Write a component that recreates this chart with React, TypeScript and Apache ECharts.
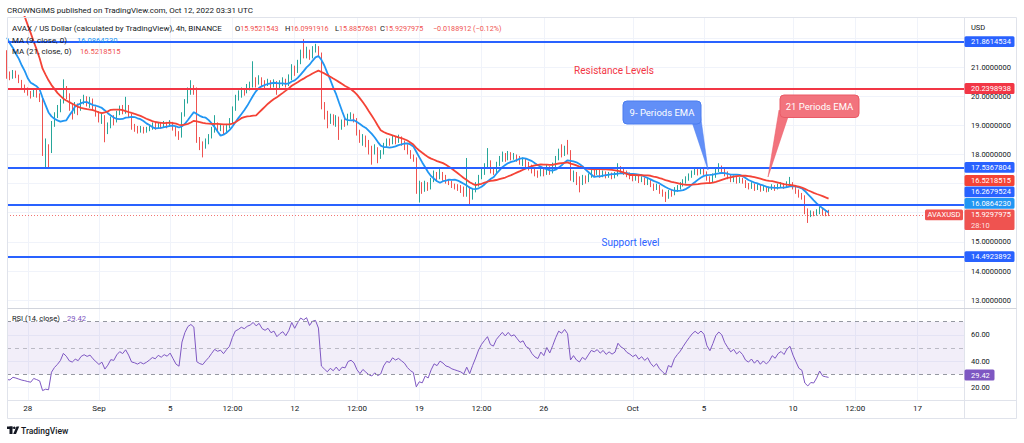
import React, { useEffect, useRef } from "react";
import * as echarts from "echarts";

// ---------------- data ----------------
// 4h closes before the first visible candle (Aug 23 12:00 .. Aug 26 16:00), only used to warm up MA / RSI
const priorCloses = [25.6, 25.3, 25.8, 25.5, 26.0, 25.7, 26.1, 25.8, 26.2, 25.9, 26.1, 25.7, 22.5, 22.2, 22.5, 22.1, 22.4, 22.0, 22.3, 21.4];

// visible 4h candles, Aug 26 20:00 .. Oct 12 00:00 (UTC)
const closes = [
  20.72, 20.66, 20.84, 20.70, 20.52, 20.35, 20.25, 20.12, 20.02, 20.20,
  20.05, 19.88, 18.15, 18.22, 18.10, 19.05, 19.35, 19.55, 19.80, 20.30,
  20.05, 19.62, 19.50, 19.68, 19.55, 19.80, 19.90, 19.78, 19.85, 19.60,
  19.40, 19.20, 19.30, 18.78, 18.95, 19.20, 19.15, 19.40, 19.55, 19.45,
  19.62, 19.35, 18.95, 18.90, 18.82, 18.88, 18.80, 18.85, 18.92, 19.00,
  18.95, 19.05, 18.98, 19.05, 19.00, 19.08, 18.90, 18.70, 18.62, 19.35,
  19.80, 20.15, 20.28, 20.20, 18.50, 18.35, 18.28, 18.45, 18.60, 18.80,
  19.00, 18.90, 18.95, 18.78, 18.95, 19.10, 19.55, 19.95, 20.05, 20.20,
  20.15, 20.30, 20.38, 20.55, 20.45, 20.60, 20.45, 20.40, 20.50, 20.38,
  20.45, 20.30, 20.42, 20.50, 20.40, 20.60, 21.00, 20.85, 21.15, 21.45,
  21.40, 21.55, 21.35, 21.60, 21.65, 21.45, 19.65, 19.40, 19.15, 19.30,
  19.10, 19.25, 18.95, 19.10, 19.05, 19.30, 19.35, 19.20, 18.75, 18.45,
  18.60, 18.40, 18.20, 18.10, 18.20, 18.00, 18.05, 18.30, 18.45, 18.40,
  18.55, 18.45, 18.50, 18.40, 18.30, 18.10, 17.95, 17.85, 16.75, 16.90,
  16.80, 17.00, 16.85, 17.10, 17.30, 17.20, 17.35, 17.25, 17.10, 17.05,
  16.95, 16.90, 16.85, 16.80, 16.70, 16.85, 16.55, 16.75, 16.95, 17.20,
  17.40, 17.55, 17.70, 17.45, 17.40, 17.65, 17.80, 17.95, 17.85, 18.00,
  17.90, 17.95, 17.85, 17.75, 17.80, 17.65, 17.60, 17.45, 17.35, 17.30,
  17.45, 17.35, 17.55, 17.40, 17.60, 17.85, 18.10, 18.05, 18.20, 18.10,
  17.20, 17.35, 17.15, 17.05, 17.20, 17.10, 17.25, 17.40, 17.35, 17.42,
  17.30, 17.38, 17.25, 17.32, 17.25, 17.30, 17.55, 17.45, 17.40, 17.30,
  17.25, 17.18, 17.22, 17.10, 17.15, 17.05, 17.10, 16.95, 16.85, 16.90,
  16.75, 16.65, 16.55, 16.70, 16.65, 16.80, 16.88, 16.95, 17.05, 17.15,
  17.25, 17.35, 17.42, 17.38, 17.45, 17.40, 17.20, 17.10, 17.25, 17.45,
  17.55, 17.50, 17.35, 17.25, 17.15, 17.20, 17.10, 17.15, 17.08, 16.95,
  16.90, 16.95, 16.85, 16.90, 16.80, 16.85, 16.78, 16.82, 16.90, 16.85,
  16.92, 16.95, 16.90, 16.98, 17.02, 16.88, 16.75, 16.60, 16.55, 16.10,
  15.95, 16.00, 15.98, 16.05, 16.15, 15.98, 15.9521543, 15.9297975,
];
const highs = [
  21.58, 20.85, 20.90, 20.88, 20.74, 20.56, 20.40, 20.30, 20.18, 20.28,
  20.24, 20.10, 19.95, 18.55, 18.35, 19.15, 19.45, 19.70, 19.90, 20.58,
  20.35, 20.10, 19.75, 19.80, 19.75, 19.90, 20.05, 20.00, 19.98, 19.92,
  19.65, 19.48, 19.42, 19.35, 19.10, 19.30, 19.35, 19.50, 19.68, 19.70,
  19.98, 19.70, 19.40, 19.05, 18.98, 18.98, 18.95, 18.95, 19.00, 19.10,
  19.08, 19.12, 19.10, 19.15, 19.12, 19.18, 19.12, 18.95, 18.80, 19.45,
  19.90, 20.30, 20.55, 20.38, 20.30, 18.60, 18.45, 18.55, 18.70, 18.95,
  19.35, 19.10, 19.05, 19.00, 19.05, 19.25, 19.65, 20.05, 20.20, 20.30,
  20.28, 20.42, 20.50, 21.20, 20.65, 20.72, 20.65, 20.55, 20.60, 20.55,
  20.58, 20.52, 20.55, 20.65, 20.60, 20.75, 21.10, 21.05, 21.25, 21.60,
  21.96, 21.70, 21.60, 21.72, 21.80, 21.72, 21.50, 19.80, 19.50, 19.40,
  19.38, 19.35, 19.30, 19.20, 19.25, 19.40, 19.45, 19.40, 19.25, 18.85,
  18.70, 18.65, 18.50, 18.30, 18.35, 18.25, 18.15, 18.40, 18.55, 18.55,
  18.65, 18.60, 18.68, 18.62, 18.48, 18.35, 18.15, 18.00, 17.90, 17.10,
  17.05, 17.10, 17.05, 17.20, 17.45, 17.40, 17.50, 17.40, 17.30, 17.15,
  17.10, 17.00, 16.98, 16.95, 16.90, 17.88, 16.90, 16.85, 17.05, 17.30,
  17.55, 17.70, 18.22, 17.80, 17.55, 17.75, 17.95, 18.10, 18.05, 18.12,
  18.08, 18.05, 18.00, 17.95, 17.90, 17.85, 17.75, 17.65, 17.55, 17.45,
  17.55, 17.50, 17.65, 17.60, 17.72, 17.95, 18.20, 18.35, 18.30, 18.50,
  18.15, 17.45, 17.40, 17.25, 17.30, 17.28, 17.35, 17.48, 17.50, 17.52,
  17.48, 17.45, 17.42, 17.40, 17.38, 17.40, 17.70, 17.60, 17.52, 17.45,
  17.38, 17.32, 17.30, 17.28, 17.25, 17.20, 17.20, 17.15, 17.00, 17.00,
  16.95, 16.80, 16.72, 16.78, 16.80, 16.88, 16.95, 17.05, 17.15, 17.25,
  17.35, 17.45, 17.55, 17.50, 17.55, 17.52, 17.42, 17.25, 17.35, 17.55,
  17.70, 17.62, 17.55, 17.42, 17.30, 17.28, 17.25, 17.22, 17.20, 17.12,
  17.02, 17.05, 17.00, 16.98, 16.95, 16.92, 16.90, 16.90, 16.98, 16.95,
  17.00, 17.05, 17.02, 17.08, 17.23, 17.05, 16.92, 16.80, 16.68, 16.60,
  16.15, 16.08, 16.05, 16.12, 16.20, 16.18, 16.05, 16.0991916,
];
const lows = [
  20.60, 20.55, 20.60, 20.62, 20.45, 20.28, 20.12, 20.02, 19.92, 19.98,
  19.95, 19.80, 17.95, 17.55, 17.50, 18.05, 18.95, 19.25, 19.45, 19.75,
  19.90, 19.50, 19.20, 19.40, 19.35, 19.50, 19.72, 19.65, 19.60, 19.50,
  19.30, 19.10, 19.05, 18.42, 18.70, 18.90, 19.00, 19.10, 19.35, 19.38,
  19.40, 19.25, 18.85, 18.78, 18.72, 18.75, 18.72, 18.75, 18.80, 18.85,
  18.85, 18.90, 18.88, 18.92, 18.90, 18.95, 18.82, 18.62, 18.50, 18.58,
  19.30, 19.75, 20.05, 20.05, 18.40, 18.15, 17.90, 18.20, 18.35, 18.55,
  18.75, 18.80, 18.80, 18.70, 18.72, 18.90, 19.05, 19.50, 19.85, 19.95,
  20.02, 20.10, 20.20, 20.30, 20.30, 20.40, 20.35, 20.25, 20.35, 20.25,
  20.30, 20.05, 20.22, 20.35, 20.30, 20.35, 20.55, 20.70, 20.80, 21.10,
  21.30, 21.30, 21.25, 21.30, 21.50, 21.35, 19.55, 19.20, 18.90, 19.05,
  19.00, 18.95, 18.50, 18.85, 18.95, 19.00, 19.20, 19.10, 18.65, 18.40,
  18.30, 18.25, 18.00, 17.65, 18.00, 17.70, 17.85, 18.00, 18.25, 18.30,
  18.35, 18.35, 18.40, 18.30, 18.15, 18.00, 17.85, 17.75, 16.65, 16.35,
  16.65, 16.72, 16.75, 16.80, 17.05, 17.10, 17.15, 17.10, 17.00, 16.95,
  16.85, 16.80, 16.75, 16.68, 16.55, 16.55, 16.28, 16.45, 16.70, 16.90,
  17.15, 17.30, 17.50, 17.35, 17.30, 17.35, 17.60, 17.75, 17.75, 17.80,
  17.80, 17.82, 17.75, 17.65, 17.60, 17.55, 17.45, 17.35, 17.25, 17.20,
  17.25, 17.25, 17.30, 17.30, 17.35, 17.55, 17.80, 17.90, 17.95, 18.00,
  17.10, 17.05, 16.95, 16.70, 16.95, 17.00, 17.05, 17.20, 17.25, 17.30,
  17.20, 17.22, 17.18, 17.20, 17.15, 17.18, 17.25, 17.35, 17.30, 17.22,
  17.15, 17.08, 17.10, 17.02, 17.05, 16.95, 16.95, 16.88, 16.75, 16.78,
  16.65, 16.55, 16.37, 16.48, 16.55, 16.60, 16.72, 16.80, 16.90, 17.00,
  17.10, 17.20, 17.30, 17.28, 17.32, 17.30, 17.10, 17.00, 17.05, 17.20,
  17.40, 17.40, 17.25, 17.15, 17.05, 17.05, 17.00, 17.02, 17.00, 16.85,
  16.80, 16.82, 16.75, 16.78, 16.72, 16.75, 16.70, 16.72, 16.78, 16.75,
  16.80, 16.85, 16.82, 16.85, 16.90, 16.80, 16.65, 16.52, 16.45, 15.95,
  15.65, 15.85, 15.88, 15.90, 15.95, 15.90, 15.88, 15.8857681,
];

const levelValues = [21.8614534, 20.2398938, 17.5367804, 16.2679524, 14.4923892];
const lastPrice = 15.9297975;
const legendOHLC = ["15.9521543", "16.0991916", "15.8857681", "15.9297975"];
const legendChange = "\u22120.0188912 (\u22120.12%)";
const maLegend = ["16.0864230", "16.5218515"];
const rsiLegend = "29.42";
const priceTicks = [13, 14, 15, 16, 17, 18, 19, 20, 21, 22];
// 16, 17 and 22 sit under the coloured price tags in the reference
const priceLabelTicks = [13, 14, 15, 18, 19, 20, 21];
const rsiTicks = [20, 40, 60];
const rsiBands = [70, 50, 30];
const tagValues = ["21.8614534", "20.2398938", "17.5367804", "16.5218515", "16.2679524", "16.0864230", "15.9297975", "14.4923892"];
const timeLabels: [string, string][] = [
  ["2022-08-28 00:00", "28"], ["2022-09-01 00:00", "Sep"], ["2022-09-05 00:00", "5"],
  ["2022-09-08 12:00", "12:00"], ["2022-09-12 00:00", "12"], ["2022-09-15 12:00", "12:00"],
  ["2022-09-19 00:00", "19"], ["2022-09-22 12:00", "12:00"], ["2022-09-26 00:00", "26"],
  ["2022-10-01 00:00", "Oct"], ["2022-10-05 00:00", "5"], ["2022-10-10 00:00", "10"],
  ["2022-10-13 12:00", "12:00"], ["2022-10-17 00:00", "17"],
];

// ---------------- styles / layout ----------------
const FONT = "Roboto, 'Noto Sans', sans-serif";
const DARK = "#131722";
const BLUE = "#2962ff";
const RED = "#f23645";
const UP = "#26a69a";
const DOWN = "#ef5350";
const levelColors = [BLUE, RED, BLUE, BLUE, BLUE];
const tagColors = [BLUE, RED, BLUE, "#f44336", BLUE, "#2196f3", "#ef5350", BLUE];
const tagY = [41.7, 88.5, 167.3, 180.5, 191.8, 203.3, 214.8, 256.7];
const SLOT_COUNT = 324;
const START = Date.UTC(2022, 7, 26, 20);

const pad = (n: number) => String(n).padStart(2, "0");
const fmtSlot = (t: number) => {
  const d = new Date(t);
  return `${d.getUTCFullYear()}-${pad(d.getUTCMonth() + 1)}-${pad(d.getUTCDate())} ${pad(d.getUTCHours())}:${pad(d.getUTCMinutes())}`;
};

function buildOption() {
  const slots = Array.from({ length: SLOT_COUNT }, (_, i) => fmtSlot(START + i * 4 * 3600 * 1000));
  const labelMap = new Map(timeLabels);
  const shown = (_: number, v: string) => labelMap.has(v);

  const P = priorCloses.length;
  const full = priorCloses.concat(closes);
  const candles = closes.map((c, i) => {
    const o = i === 0 ? priorCloses[P - 1] : closes[i - 1];
    return [o, c, Math.min(lows[i], o, c), Math.max(highs[i], o, c)];
  });
  const sma = (n: number) =>
    closes.map((_, i) => {
      let s = 0;
      for (let k = i + P - n + 1; k <= i + P; k++) s += full[k];
      return +(s / n).toFixed(5);
    });
  const rsi = (n: number) => {
    const out: (number | null)[] = new Array(full.length).fill(null);
    let g = 0, l = 0;
    for (let k = 1; k <= n; k++) {
      const d = full[k] - full[k - 1];
      if (d > 0) g += d; else l -= d;
    }
    g /= n; l /= n;
    out[n] = 100 - 100 / (1 + g / l);
    for (let k = n + 1; k < full.length; k++) {
      const d = full[k] - full[k - 1];
      g = (g * (n - 1) + Math.max(d, 0)) / n;
      l = (l * (n - 1) + Math.max(-d, 0)) / n;
      out[k] = l === 0 ? 100 : +(100 - 100 / (1 + g / l)).toFixed(3);
    }
    return out.slice(P);
  };

  const G: any[] = [];
  const T = (x: number, y: number, text: string, fill = DARK, size = 8, align = "left", extra: any = {}) =>
    G.push({
      type: "text", x, y, z: 100, silent: true,
      style: { text, fill, fontSize: size, fontFamily: FONT, align, textAlign: align, verticalAlign: "middle", textVerticalAlign: "middle", ...extra },
    });
  const L = (x1: number, y1: number, x2: number, y2: number, stroke = "#e0e3eb") =>
    G.push({ type: "line", z: 90, silent: true, shape: { x1, y1, x2, y2 }, style: { stroke, lineWidth: 1 } });

  // frame
  L(7.5, 17.5, 1016.5, 17.5); L(7.5, 418.5, 1016.5, 418.5);
  L(7.5, 17.5, 7.5, 418.5); L(1016.5, 17.5, 1016.5, 418.5);
  L(964.5, 17.5, 964.5, 418.5);
  L(7.5, 308.5, 1016.5, 308.5, "#d1d4dc");
  L(7.5, 400.5, 1016.5, 400.5);

  // header & legends
  T(7, 10, "CROWNGIMS published on TradingView.com, Oct 12, 2022 03:31 UTC", DARK, 8);
  T(12, 28.5, "AVAX / US Dollar (calculated by TradingView), 4h, BINANCE", DARK, 8);
  const rich = {
    d: { fill: DARK, fontSize: 7.6, fontFamily: FONT },
    r: { fill: DOWN, fontSize: 7.2, fontFamily: FONT },
    b: { fill: "#2196f3", fontSize: 7.6, fontFamily: FONT },
    m: { fill: DOWN, fontSize: 7.6, fontFamily: FONT },
    p: { fill: "#7e57c2", fontSize: 7.6, fontFamily: FONT },
  };
  ["O", "H", "L", "C"].forEach((k, i) => T([235, 285, 335, 380][i], 28.5, `{d|${k}}{r|${legendOHLC[i]}}`, DARK, 8, "left", { rich }));
  T(433, 28.5, `{r|${legendChange}}`, DARK, 8, "left", { rich });
  T(12, 40, "MA (9, close, 0)", DARK, 8);
  T(77, 40, `{b|${maLegend[0]}}`, DARK, 8, "left", { rich });
  T(12, 51.7, "MA (21, close, 0)", DARK, 8);
  T(80, 51.7, `{m|${maLegend[1]}}`, DARK, 8, "left", { rich });
  T(12, 318.5, "RSI (14, close)", DARK, 7.5);
  T(67, 318.5, `{p|${rsiLegend}}`, DARK, 7.5, "left", { rich });
  T(971, 27, "USD", DARK, 7.5);

  // annotations
  T(614, 70, "Resistance Levels", RED, 10, "center");
  T(630.5, 242, "Support level", BLUE, 10, "center");
  G.push({ type: "polygon", z: 95, silent: true, shape: { points: [[692, 122], [700, 112], [708, 170]] }, style: { fill: "#628ff7", stroke: "#4a7df0", lineWidth: 0.5 } });
  G.push({ type: "rect", z: 96, silent: true, shape: { x: 623, y: 101, width: 78, height: 23, r: 4 }, style: { fill: "#628ff7", stroke: "#4a7df0", lineWidth: 1 } });
  T(662, 112.5, "9- Periods EMA", "#ffffff", 9.5, "center");
  G.push({ type: "polygon", z: 95, silent: true, shape: { points: [[779, 110], [788, 117], [768, 177]] }, style: { fill: "#f2737d", stroke: "#ea5a66", lineWidth: 0.5 } });
  G.push({ type: "rect", z: 96, silent: true, shape: { x: 780, y: 95, width: 79, height: 22.5, r: 4 }, style: { fill: "#f2737d", stroke: "#ea5a66", lineWidth: 1 } });
  T(819.5, 106.2, "21 Periods EMA", "#ffffff", 9.5, "center");

  // price tags
  tagValues.forEach((v, i) => {
    const isLast = i === 6;
    const h = isLast ? 20.5 : 10.8;
    const y0 = tagY[i] - 5.4;
    G.push({ type: "rect", z: 97, silent: true, shape: { x: 964.5, y: y0, width: 50, height: h, r: 1.5 }, style: { fill: tagColors[i] } });
    T(971, tagY[i], v, "#ffffff", 7.5);
    if (isLast) T(971, tagY[i] + 10.3, "28:10", "rgba(255,255,255,0.85)", 7.5);
  });
  G.push({ type: "rect", z: 97, silent: true, shape: { x: 925, y: 209.4, width: 38, height: 10.8, r: 1.5 }, style: { fill: "#ef5350" } });
  T(944, 214.8, "AVAXUSD", "#ffffff", 7.5, "center");
  G.push({ type: "rect", z: 97, silent: true, shape: { x: 964.5, y: 369.6, width: 30, height: 10.8, r: 1.5 }, style: { fill: "#7e57c2" } });
  T(971, 375, rsiLegend, "#ffffff", 7.5);

  // TradingView logo
  G.push({ type: "rect", z: 100, silent: true, shape: { x: 7, y: 426.5, width: 5.5, height: 2.5 }, style: { fill: DARK } });
  G.push({ type: "rect", z: 100, silent: true, shape: { x: 9.5, y: 426.5, width: 3, height: 7.5 }, style: { fill: DARK } });
  G.push({ type: "circle", z: 100, silent: true, shape: { cx: 14.3, cy: 427.8, r: 1.3 }, style: { fill: DARK } });
  G.push({ type: "polygon", z: 100, silent: true, shape: { points: [[13.2, 434], [16.5, 426.5], [19.2, 426.5], [16, 434]] }, style: { fill: DARK } });
  T(21, 430.5, "TradingView", DARK, 8.5, "left", { fontWeight: 500 });

  const xAxisBase = {
    type: "category", data: slots, boundaryGap: false,
    axisLine: { show: false }, axisTick: { show: false },
    splitLine: { show: true, interval: shown, lineStyle: { color: "#f0f3fa", width: 1 } },
  };

  return {
    animation: false,
    backgroundColor: "#ffffff",
    textStyle: { fontFamily: FONT },
    grid: [
      { left: 7, right: 59, top: 17, height: 291 },
      { left: 7, right: 59, top: 308, height: 92 },
    ],
    xAxis: [
      { ...xAxisBase, gridIndex: 0, axisLabel: { show: false } },
      { ...xAxisBase, gridIndex: 1, axisLabel: { show: true, interval: shown, formatter: (v: string) => labelMap.get(v) || "", color: DARK, fontSize: 8, margin: 4, fontFamily: FONT } },
    ],
    yAxis: [
      {
        type: "value", gridIndex: 0, position: "right", min: 12.73, max: 22.72, scale: true,
        axisLine: { show: false }, axisTick: { show: false, customValues: priceTicks },
        axisLabel: { customValues: priceLabelTicks, formatter: (v: number) => v.toFixed(7), color: DARK, fontSize: 7.5, margin: 6, fontFamily: FONT },
        splitLine: { show: true, lineStyle: { color: "#f0f3fa" } },
      },
      {
        type: "value", gridIndex: 1, position: "right", min: 10.46, max: 80.4, scale: true,
        axisLine: { show: false }, axisTick: { show: false, customValues: rsiTicks },
        axisLabel: { customValues: rsiTicks, formatter: (v: number) => v.toFixed(2), color: DARK, fontSize: 7.5, margin: 6, fontFamily: FONT },
        splitLine: { show: true, lineStyle: { color: "#f0f3fa" } },
      },
    ],
    series: [
      {
        type: "candlestick", xAxisIndex: 0, yAxisIndex: 0, data: candles, barWidth: 1.3, silent: true,
        itemStyle: { color: UP, color0: DOWN, borderColor: UP, borderColor0: DOWN, borderWidth: 1 },
        markLine: {
          silent: true, symbol: ["none", "none"], label: { show: false }, animation: false,
          data: [
            ...levelValues.map((v, i) => ({ yAxis: v, lineStyle: { color: levelColors[i], width: 2, type: "solid" } })),
            { yAxis: lastPrice, lineStyle: { color: DOWN, width: 1, type: [1, 2], opacity: 0.8 } },
          ],
        },
      },
      { type: "line", name: "MA9", xAxisIndex: 0, yAxisIndex: 0, data: sma(9), showSymbol: false, silent: true, lineStyle: { color: "#2196f3", width: 1.8 }, z: 3 },
      { type: "line", name: "MA21", xAxisIndex: 0, yAxisIndex: 0, data: sma(21), showSymbol: false, silent: true, lineStyle: { color: "#f44336", width: 1.8 }, z: 3 },
      {
        type: "line", name: "RSI", xAxisIndex: 1, yAxisIndex: 1, data: rsi(14), showSymbol: false, silent: true,
        lineStyle: { color: "#7e57c2", width: 1 },
        markArea: { silent: true, itemStyle: { color: "rgba(126,87,194,0.1)" }, data: [[{ yAxis: rsiBands[2] }, { yAxis: rsiBands[0] }]] },
        markLine: {
          silent: true, symbol: ["none", "none"], label: { show: false },
          data: rsiBands.map((v, i) => ({ yAxis: v, lineStyle: { color: i === 1 ? "rgba(120,123,134,0.45)" : "#9598a1", width: 1, type: [4, 4] } })),
        },
      },
    ],
    graphic: G,
  };
}

export default function App() {
  const ref = useRef<HTMLDivElement>(null);
  useEffect(() => {
    if (!ref.current) return;
    const chart = echarts.init(ref.current, undefined, { renderer: "svg" });
    chart.setOption(buildOption() as any);
    return () => chart.dispose();
  }, []);
  return <div ref={ref} style={{ position: "absolute", left: 0, top: 0, width: 1024, height: 443, background: "#fff" }} />;
}
